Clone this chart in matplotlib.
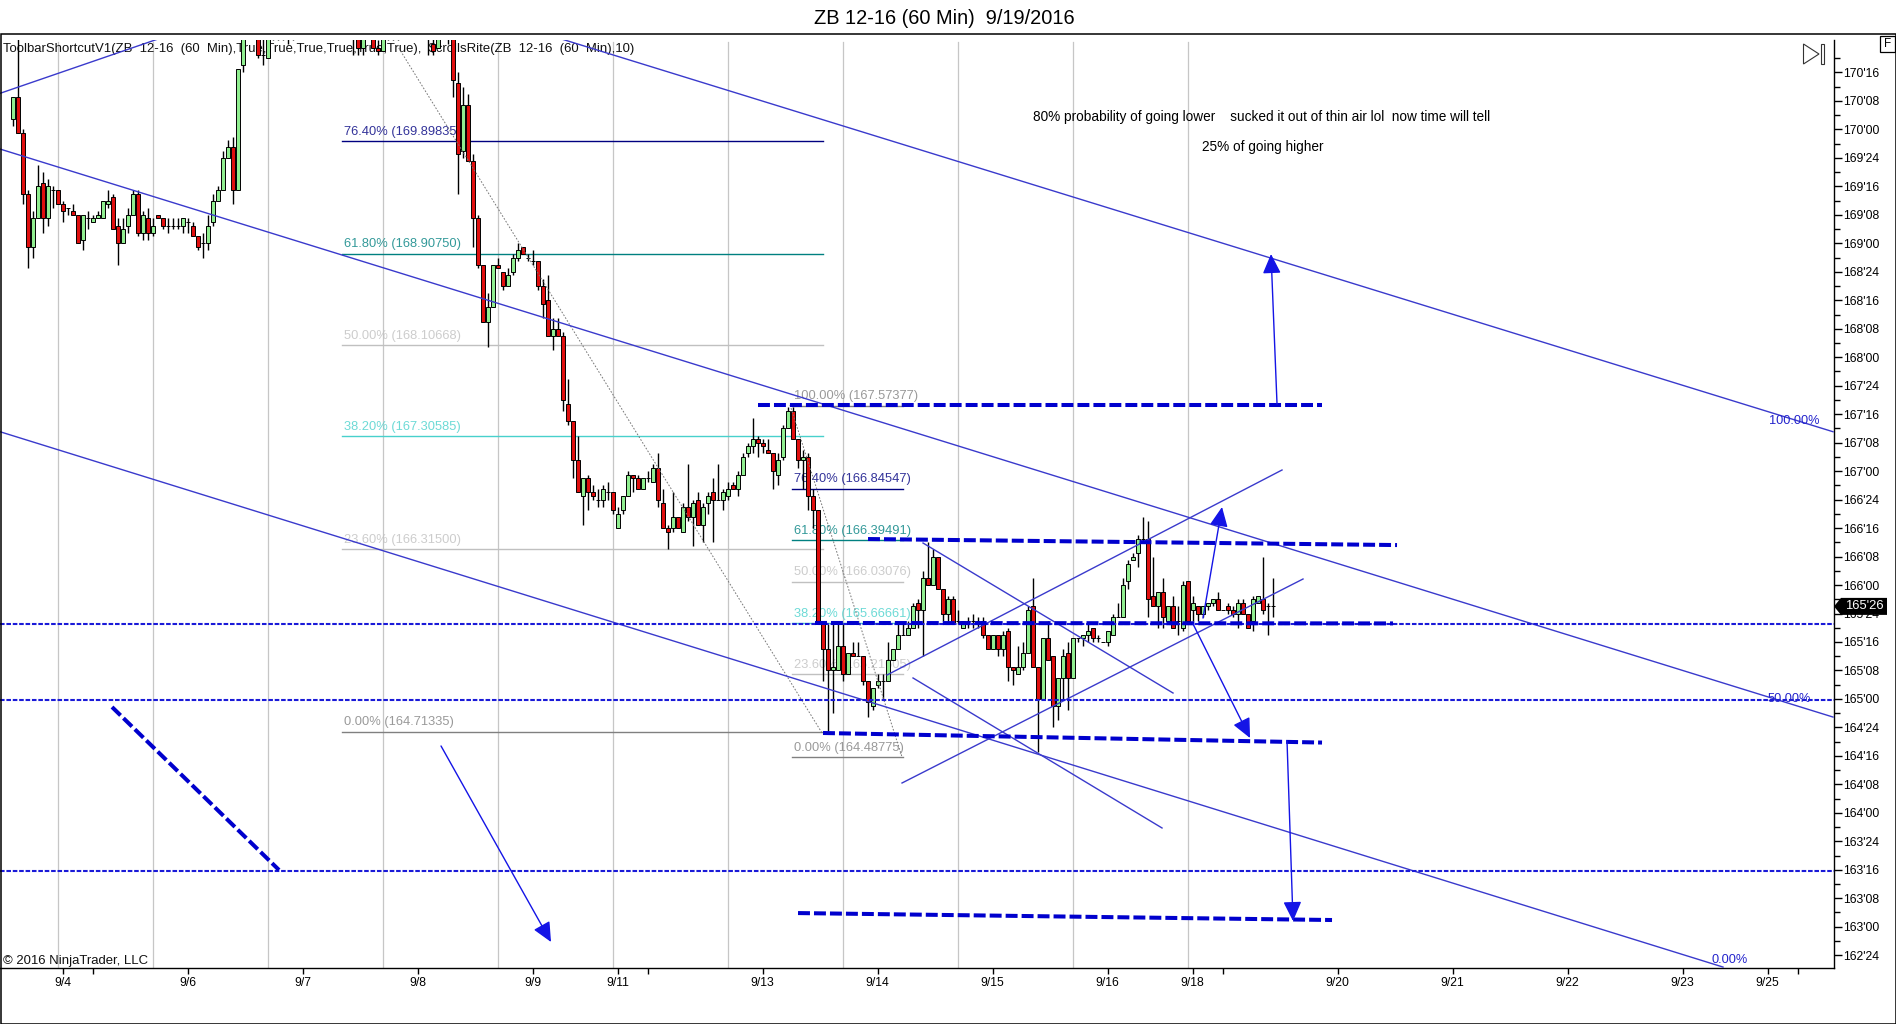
import numpy as np
import matplotlib
matplotlib.use("Agg")
import matplotlib.pyplot as plt
from matplotlib.patches import Polygon, Rectangle

W, H = 1896, 1024

# bar prices in 32nds above the 160 handle, one entry per 60 min bar
# (bars above the top of the panel are cut off in the source, so those are guesses)
opens = [323,329,319,302,287,295,305,295,303,303,
         299,298,297,296,289,295,294,295,295,299,
         301,293,288,293,296,302,291,295,291,296,
         295,293,293,293,293,294,293,290,288,288,
         294,300,303,312,315,303,338,350,354,349,
         341,340,349,351,348,350,347,349,351,350,
         353,352,349,352,355,353,350,351,348,347,
         343,348,349,343,342,347,348,347,348,350,
         349,351,349,348,344,343,348,349,347,333,
         314,327,311,295,282,266,270,282,280,276,
         280,284,287,284,283,283,276,272,262,264,
         262,243,238,227,217,222,218,216,216,218,
         218,208,213,217,223,222,219,222,221,225,
         215,208,208,211,207,214,211,216,209,215,
         218,216,216,217,220,219,223,229,231,233,
         232,230,229,223,228,236,241,233,227,228,
         217,213,181,174,168,168,175,167,173,172,
         172,165,158,164,165,165,171,174,178,178,
         180,187,185,194,192,200,191,184,188,182,
         180,182,182,182,182,178,174,178,174,179,
         169,167,169,173,186,169,160,177,172,158,
         166,173,166,177,177,178,180,177,176,176,
         178,183,183,193,199,201,205,205,189,186,
         190,182,186,182,180,193,185,186,184,186,
         187,188,185,186,185,184,187,184,182,187,
         188,186,186]
highs = [329,352,320,303,297,310,308,306,304,303,
         300,298,299,296,296,297,296,297,300,303,
         302,295,295,298,303,303,297,298,295,296,
         295,295,295,295,295,295,294,290,291,296,
         302,304,314,317,318,337,350,356,358,352,
         347,352,352,353,351,352,350,353,354,355,
         356,354,353,356,358,355,353,353,351,349,
         349,351,350,345,348,349,350,349,351,353,
         352,353,351,350,346,349,350,351,349,336,
         332,330,313,296,282,274,282,284,280,281,
         285,288,287,285,286,283,278,279,267,267,
         263,250,238,234,222,223,220,219,220,221,
         218,214,217,224,223,223,222,224,226,229,
         219,209,218,211,215,226,216,218,215,218,
         222,226,219,221,221,224,229,232,239,234,
         233,233,229,229,237,242,242,233,230,229,
         219,213,181,181,181,181,181,173,176,176,
         172,165,163,167,167,176,174,181,181,182,
         187,188,196,204,202,200,191,189,189,185,
         182,183,184,183,183,178,178,178,179,180,
         169,175,176,186,194,169,177,182,172,166,
         174,176,177,177,178,181,180,178,176,179,
         184,187,194,199,201,206,211,210,200,190,
         194,186,189,186,193,193,189,186,186,187,
         188,190,185,187,186,188,188,184,189,189,
         200,187,194]
lows = [321,319,299,281,284,295,291,293,298,299,
        294,296,296,288,286,292,294,295,295,298,
        292,282,288,291,296,290,289,289,290,295,
        292,291,292,292,291,291,290,286,284,286,
        293,300,303,312,299,303,336,347,349,340,
        338,340,345,345,345,344,345,347,348,348,
        350,348,347,350,352,349,348,347,341,341,
        341,346,343,341,342,345,345,345,347,348,
        347,348,347,341,341,343,346,344,329,302,
        312,311,287,281,266,259,270,281,275,276,
        279,283,285,283,282,275,267,262,258,262,
        241,237,222,218,209,213,216,214,214,216,
        212,208,212,217,218,219,219,221,221,214,
        208,202,207,208,207,210,203,209,204,212,
        204,216,213,216,219,217,223,228,229,228,
        229,229,219,220,227,236,233,225,219,213,
        208,181,165,151,156,168,165,167,172,172,
        164,155,157,163,160,165,171,174,178,178,
        180,180,172,192,192,191,182,182,181,181,
        180,180,180,180,177,174,174,172,172,165,
        164,167,168,173,169,145,160,171,152,154,
        160,157,166,176,175,176,176,176,176,175,
        178,183,183,191,199,197,204,183,186,180,
        180,182,180,178,179,182,182,182,183,185,
        186,185,185,184,183,180,184,180,179,187,
        184,178,183]
closes = [329,319,302,287,295,304,295,304,303,299,
          297,298,296,288,296,295,295,296,300,300,
          292,288,292,296,302,291,296,291,293,295,
          293,293,293,293,295,294,290,287,288,293,
          300,303,312,315,303,337,350,354,351,341,
          341,350,351,348,350,347,349,351,350,353,
          352,349,352,355,353,350,351,348,347,343,
          348,349,343,342,347,348,347,348,350,349,
          351,349,348,347,342,348,349,347,334,313,
          327,311,295,282,266,270,282,281,276,279,
          284,286,285,284,283,276,271,262,264,262,
          244,238,227,218,222,218,217,216,219,218,
          213,212,217,223,222,219,222,222,225,216,
          208,207,211,208,214,211,215,209,214,217,
          216,216,218,219,219,223,228,231,233,232,
          231,229,224,227,236,241,233,227,228,217,
          213,181,174,168,169,175,167,173,172,172,
          165,159,163,165,165,171,174,178,178,180,
          186,185,194,192,200,191,184,188,181,182,
          182,182,182,182,178,174,178,174,178,169,
          168,169,173,185,169,160,177,171,158,166,
          172,166,177,177,178,179,177,177,176,179,
          183,183,192,198,200,205,205,188,186,190,
          183,186,180,182,192,182,187,184,186,187,
          188,185,185,185,184,187,184,180,188,189,
          185,186,186]
last_price = 165 + 26 / 32

session_bars = [9, 28, 51, 74, 97, 120, 143, 166, 189, 212, 235]
date_bars = [10, 16, 35, 58, 81, 104, 121, 127, 150, 173, 196, 219, 236, 242, 265, 288, 311, 334, 351, 357]
date_labels = ["9/4", "", "9/6", "9/7", "9/8", "9/9", "9/11", "", "9/13", "9/14", "9/15", "9/16",
               "9/18", "", "9/20", "9/21", "9/22", "9/23", "9/25", ""]

fib_levels = ["76.40%", "61.80%", "50.00%", "38.20%", "23.60%", "0.00%"]
fib_prices = [169.89835, 168.90750, 168.10668, 167.30585, 166.31500, 164.71335]
fib_colors = ["#000080", "#008080", "#c0c0c0", "#48d1cc", "#c0c0c0", "#808080"]
fib_span = (65.9, 162.1)

fib2_levels = ["100.00%", "76.40%", "61.80%", "50.00%", "38.20%", "23.60%", "0.00%"]
fib2_prices = [167.57377, 166.84547, 166.39491, 166.03076, 165.66661, 165.21605, 164.48775]
fib2_colors = ["#808080", "#000080", "#008080", "#c0c0c0", "#48d1cc", "#c0c0c0", "#808080"]
fib2_span = (155.9, 178.0)

# drawing objects as (bar, price, bar, price)
channels = [(-2.53, 170.317, 28.8, 170.79),
            (110.07, 170.79, 364.07, 167.346),
            (-2.53, 169.828, 364.07, 164.841),
            (-2.53, 167.346, 342.07, 162.646)]
thin_lines = [(174.87, 165.21, 253.87, 167.01),
              (177.87, 164.262, 258.07, 166.053),
              (182.07, 166.369, 232.07, 165.052),
              (180.07, 165.184, 229.87, 163.867)]
dotted_lines = [(76.87, 170.74, 161.87, 164.701),
                (155.47, 167.581, 177.87, 164.49)]
level_prices = [165.658, 164.988, 163.493]
thick_lines = [(149.0, 167.581, 261.87, 167.581),
               (171.07, 166.404, 276.87, 166.351),
               (160.47, 165.667, 276.07, 165.663),
               (162.07, 164.701, 261.87, 164.617),
               (157.07, 163.12, 263.87, 163.059),
               (19.87, 164.929, 53.27, 163.498)]
arrows = [(85.67, 164.587, 107.67, 162.866),
          (252.87, 167.589, 251.67, 168.906),
          (254.87, 164.631, 256.07, 163.05),
          (236.07, 165.658, 247.47, 164.657),
          (238.07, 165.71, 241.87, 166.685)]

plt.rcParams["font.family"] = ["Liberation Sans", "DejaVu Sans"]
plt.rcParams["lines.scale_dashes"] = False

fig = plt.figure(figsize=(W / 100, H / 100), dpi=100, facecolor="white")
ax = fig.add_axes([0, (H - 968) / H, 1834 / W, (968 - 40) / H])
ax.set_xlim(-2.534, 364.266)
ax.set_ylim(162.6377, 170.7853)


def fx(x):
    return x / W


def fy(y):
    return 1 - y / H


def put(x, y, s, zorder=6, **kw):
    kw.setdefault("fontsize", 9.45)
    kw.setdefault("va", "center")
    ax.text(fx(x), fy(y), s, transform=fig.transFigure, clip_on=False, zorder=zorder, **kw)


for b in session_bars:
    ax.axvline(b, ymax=0.998, color="#c6c6c6", lw=0.9, zorder=1)

# candles
bars = np.arange(len(opens))
o = 160 + np.array(opens) / 32
h = 160 + np.array(highs) / 32
l = 160 + np.array(lows) / 32
c = 160 + np.array(closes) / 32
up = c >= o
ax.vlines(bars, l, h, colors="black", lw=1, zorder=3)
ax.bar(bars[up], (c - o)[up], bottom=o[up], width=0.86, color="#90ee90", edgecolor="black", lw=0.7, zorder=4)
ax.bar(bars[~up], (c - o)[~up], bottom=o[~up], width=0.86, color="#e00f0f", edgecolor="black", lw=0.7, zorder=4)

# fib retracements, labels sit under the candles
for lev, p, col in zip(fib_levels, fib_prices, fib_colors):
    ax.plot(fib_span, [p, p], color=col, lw=1, zorder=2)
    ax.annotate(f"{lev} ({p:.5f})", xy=(fib_span[0], p), xytext=(1.5, 2.5), textcoords="offset points",
                color=col, alpha=0.8, fontsize=9.25, va="bottom", zorder=2)
for lev, p, col in zip(fib2_levels, fib2_prices, fib2_colors):
    ax.plot(fib2_span, [p, p], color=col, lw=1, zorder=2)
    ax.annotate(f"{lev} ({p:.5f})", xy=(fib2_span[0], p), xytext=(1.5, 2.5), textcoords="offset points",
                color=col, alpha=0.8, fontsize=9.25, va="bottom", zorder=2)

for x0, y0, x1, y1 in dotted_lines:
    ax.plot([x0, x1], [y0, y1], color="#777777", lw=0.7, linestyle=(0, (1.2, 1.2)), zorder=5)
for x0, y0, x1, y1 in channels + thin_lines:
    ax.plot([x0, x1], [y0, y1], color="#3a3acc", lw=1, zorder=5)
for p in level_prices:
    ax.axhline(p, color="#1a1ad8", lw=1.5, linestyle=(0, (3.3, 1.3)), zorder=5)
for x0, y0, x1, y1 in thick_lines:
    ax.plot([x0, x1], [y0, y1], color="#0000cd", lw=2.9, linestyle=(0, (8.6, 2.9)), zorder=5)
for x0, y0, x1, y1 in arrows:
    ax.annotate("", xy=(x1, y1), xytext=(x0, y0), zorder=5,
                arrowprops=dict(arrowstyle="-|>,head_length=0.75,head_width=0.35", color="#1414e6", lw=1,
                                mutation_scale=16, shrinkA=0, shrinkB=0))

# axes
for s in ["top", "left"]:
    ax.spines[s].set_visible(False)
ax.spines["right"].set_linewidth(1)
ax.spines["bottom"].set_linewidth(1)
ax.set_facecolor("white")
ax.set_xticks(date_bars, date_labels, fontsize=8.8)
ax.tick_params(axis="x", length=4.3, width=1, pad=2.5)
ax.yaxis.tick_right()
y_major = np.arange(162.75, 170.51, 0.25)
y_minor = np.arange(162.875, 170.76, 0.25)
ax.set_yticks(y_major, [f"{int(p)}'{(p % 1) * 32:02.0f}" for p in y_major], fontsize=8.8)
ax.set_yticks(y_minor, minor=True)
ax.tick_params(axis="y", which="major", length=5.8, width=1, pad=1)
ax.tick_params(axis="y", which="minor", length=4, width=1)

# window furniture
fig.add_artist(Rectangle((fx(0.5), fy(1023.5)), fx(1895), 1023.5 / H - 34 / H, transform=fig.transFigure,
                         fill=False, edgecolor="black", lw=1.1))
fig.text(fx(944), fy(19), "ZB 12-16 (60 Min)  9/19/2016", ha="center", va="center", fontsize=14.4)
put(3, 49, "ToolbarShortcutV1(ZB  12-16  (60  Min),True,True,True,True,True,True),  $crollsRite(ZB  12-16  (60  Min),10)",
    zorder=2, color="#111111")
put(3, 961, "\u00a9 2016 NinjaTrader, LLC", color="#111111")
put(1033, 116.5, "80% probability of going lower    sucked it out of thin air lol  now time will tell", fontsize=9.85)
put(1202, 147.5, "25% of going higher", fontsize=9.85)
put(1769, 421, "100.00%", color="#2222cc", fontsize=9.2)
put(1768, 699, "50.00%", color="#2222cc", fontsize=9.2)
put(1712, 960, "0.00%", color="#2222cc", fontsize=9.2)

fig.add_artist(Rectangle((fx(1879.5), fy(52)), 15.5 / W, 16 / H, transform=fig.transFigure,
                         facecolor="white", edgecolor="black", lw=0.9))
fig.text(fx(1887.5), fy(44), "F", ha="center", va="center", fontsize=8.5)
fig.add_artist(Polygon([(fx(1803.5), fy(44)), (fx(1819), fy(54)), (fx(1803.5), fy(64))], closed=True,
                       fill=False, edgecolor="#333333", lw=0.8, transform=fig.transFigure))
fig.add_artist(Rectangle((fx(1820.5), fy(64)), 3 / W, 20 / H, transform=fig.transFigure,
                         fill=False, edgecolor="#333333", lw=0.8))

# last price flag on the axis
flag_y = (H - 968) / H + (last_price - 162.6377) / (170.7853 - 162.6377) * (968 - 40) / H
flag_px = (1 - flag_y) * H
fig.add_artist(Polygon([(fx(1834), fy(flag_px)), (fx(1841), fy(flag_px - 8.5)), (fx(1887), fy(flag_px - 8.5)),
                        (fx(1887), fy(flag_px + 8.5)), (fx(1841), fy(flag_px + 8.5))], closed=True,
                       facecolor="black", edgecolor="none", transform=fig.transFigure))
fig.text(fx(1864), fy(flag_px), "165'26", ha="center", va="center", color="white", fontsize=9.4)

fig.savefig("out.png", dpi=100, facecolor="white")
